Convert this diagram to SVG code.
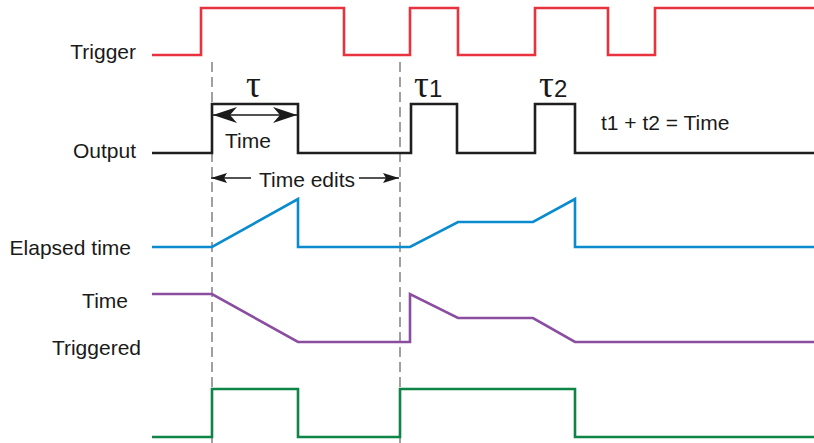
<svg xmlns="http://www.w3.org/2000/svg" width="814" height="443" viewBox="0 0 814 443">
<defs>
<style>
.sig{fill:none;stroke-width:2.6;stroke-linejoin:miter}
.lbl{font-family:"Liberation Sans",Arial,sans-serif;font-size:21px;fill:#1a1a1a}
.dig{font-family:"Liberation Sans",Arial,sans-serif;font-size:24px;fill:#1a1a1a}
.tau{font-family:"Liberation Serif","DejaVu Serif",serif;font-size:37px;fill:#1a1a1a}
.dash{fill:none;stroke:#6e6e6e;stroke-width:1.3;stroke-dasharray:10 5}
.arr{fill:none;stroke:#1a1a1a;stroke-width:1.5}
</style>
<marker id="bigL" viewBox="0 0 24 16" refX="0" refY="8" markerWidth="24" markerHeight="16" markerUnits="userSpaceOnUse" orient="auto">
<path d="M0,8 L24,0 L17,8 L24,16 Z" fill="#1a1a1a"/>
</marker>
<marker id="bigR" viewBox="0 0 24 16" refX="24" refY="8" markerWidth="24" markerHeight="16" markerUnits="userSpaceOnUse" orient="auto">
<path d="M24,8 L0,0 L7,8 L0,16 Z" fill="#1a1a1a"/>
</marker>
<marker id="smL" viewBox="0 0 16 10" refX="0" refY="5" markerWidth="16" markerHeight="10" markerUnits="userSpaceOnUse" orient="auto">
<path d="M0,5 L16,0 L13,5 L16,10 Z" fill="#1a1a1a"/>
</marker>
<marker id="smR" viewBox="0 0 16 10" refX="16" refY="5" markerWidth="16" markerHeight="10" markerUnits="userSpaceOnUse" orient="auto">
<path d="M16,5 L0,0 L3,5 L0,10 Z" fill="#1a1a1a"/>
</marker>
</defs>
<rect width="814" height="443" fill="#fff"/>
<g id="guides">
<line class="dash" x1="212" y1="62" x2="212" y2="443"/>
<line class="dash" x1="400" y1="62" x2="400" y2="443"/>
</g>
<g id="trigger">
<text class="lbl" x="136" y="59" text-anchor="end">Trigger</text>
<polyline class="sig" stroke="#e8333f" points="152,55 201,55 201,8 344,8 344,55 410,55 410,8 458,8 458,55 535,55 535,8 608,8 608,55 655,55 655,8 814,8"/>
</g>
<g id="output">
<text class="lbl" x="136" y="158" text-anchor="end">Output</text>
<polyline class="sig" stroke="#1f1f1f" points="152,153 212,153 212,104 298,104 298,153 411,153 411,104 457,104 457,153 535,153 535,104 575,104 575,153 814,153"/>
<text class="tau" x="246" y="97">τ</text>
<text x="414" y="97"><tspan class="tau">τ</tspan><tspan class="dig">1</tspan></text>
<text x="539" y="97"><tspan class="tau">τ</tspan><tspan class="dig">2</tspan></text>
<text class="lbl" x="248" y="148" text-anchor="middle">Time</text>
<text class="lbl" x="601" y="130">t1 + t2 = Time</text>
<text class="lbl" x="307" y="187" text-anchor="middle">Time edits</text>
</g>
<g id="elapsed">
<text class="lbl" x="131" y="255" text-anchor="end">Elapsed time</text>
<polyline class="sig" stroke="#0a8bcd" points="152,247 212,247 298,199 298,247 410,247 458,222 533,222 575,199 575,247 814,247"/>
</g>
<g id="remaining">
<text class="lbl" x="128" y="308" text-anchor="end">Time</text>
<text class="lbl" x="141" y="355" text-anchor="end">Triggered</text>
<polyline class="sig" stroke="#8a4d9f" points="152,294 212,294 298,342 410,342 410,294 458,318 533,318 575,342 814,342"/>
</g>
<g id="result">
<polyline class="sig" stroke="#0f8447" points="152,437 212,437 212,389 298,389 298,437 400,437 400,389 575,389 575,437 814,437"/>
</g>
<g id="connectors">
<line class="arr" x1="213" y1="115" x2="297" y2="115" marker-start="url(#bigL)" marker-end="url(#bigR)"/>
<line class="arr" x1="211" y1="178" x2="251" y2="178" marker-start="url(#smL)"/>
<line class="arr" x1="359" y1="178" x2="399" y2="178" marker-end="url(#smR)"/>
</g>
</svg>
